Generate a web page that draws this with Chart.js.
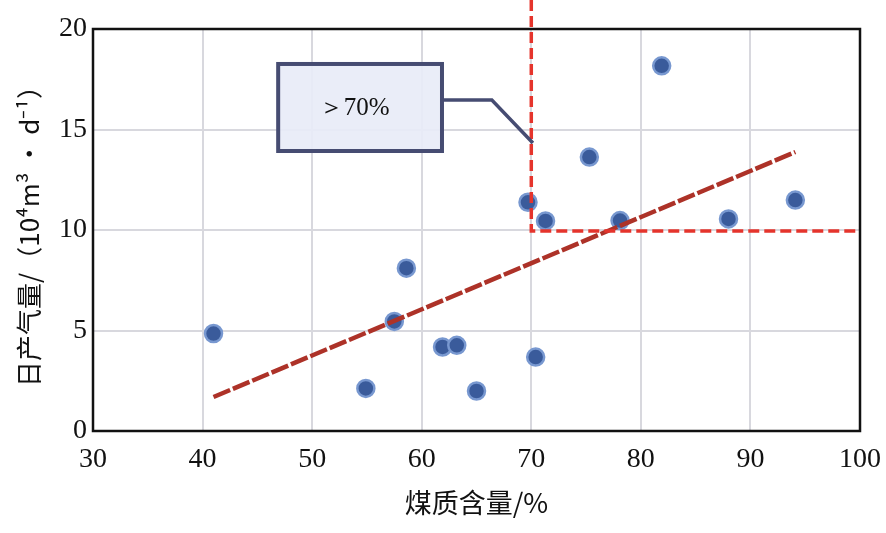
<!DOCTYPE html>
<html>
<head>
<meta charset="utf-8">
<script src="https://cdn.jsdelivr.net/npm/chart.js@4.4.0/dist/chart.umd.min.js"></script>
<style>
  html, body { margin: 0; padding: 0; background: #fff; }
  #wrap { width: 886px; height: 533px; }
</style>
</head>
<body>
<div id="wrap"><canvas id="gasChart" width="886" height="533"></canvas></div>
<script>
// coal quality content (%) vs daily gas production (10^4 m3/d)
const coalContent = [41.0, 54.9, 57.5, 58.6, 61.9, 63.2, 65.0, 69.7, 70.4, 71.3, 75.3, 78.1, 81.9, 88.0, 94.1];
const dailyGas = [4.85, 2.12, 5.45, 8.1, 4.18, 4.26, 1.99, 11.38, 3.68, 10.45, 13.63, 10.47, 18.17, 10.55, 11.49];

// fitted trend line end points
const trendX = [41.0, 94.1];
const trendY = [1.69, 13.88];

// threshold lines
const thresholdX = 70;
const thresholdY = 9.95;
const calloutText = '＞70%';

const xTicks = [30, 40, 50, 60, 70, 80, 90, 100];
const yTicks = [0, 5, 10, 15, 20];

const serif = '"Liberation Serif", "DejaVu Serif", serif';
const cjk = '"Noto Sans CJK SC", sans-serif';

const overlay = {
  id: 'overlay',
  afterDatasetsDraw(chart) {
    const { ctx, chartArea: a, scales: { x, y } } = chart;
    ctx.save();

    // red threshold lines
    ctx.strokeStyle = '#e5342c';
    ctx.lineWidth = 3.5;
    ctx.setLineDash([11, 5]);
    ctx.beginPath();
    ctx.moveTo(x.getPixelForValue(thresholdX), 0);
    ctx.lineTo(x.getPixelForValue(thresholdX), y.getPixelForValue(thresholdY));
    ctx.lineTo(x.getPixelForValue(100), y.getPixelForValue(thresholdY));
    ctx.stroke();
    ctx.setLineDash([]);

    // callout box and leader
    const bx0 = x.getPixelForValue(46.9), bx1 = x.getPixelForValue(61.85);
    const by0 = y.getPixelForValue(18.26), by1 = y.getPixelForValue(13.93);
    ctx.strokeStyle = '#464c72';
    ctx.lineWidth = 3.5;
    ctx.beginPath();
    ctx.moveTo(bx1, y.getPixelForValue(16.47));
    ctx.lineTo(x.getPixelForValue(66.4), y.getPixelForValue(16.47));
    ctx.lineTo(x.getPixelForValue(70.15), y.getPixelForValue(14.33));
    ctx.stroke();
    ctx.fillStyle = 'rgba(232, 236, 247, 0.92)';
    ctx.fillRect(bx0, by0, bx1 - bx0, by1 - by0);
    ctx.lineWidth = 4;
    ctx.strokeRect(bx0, by0, bx1 - bx0, by1 - by0);
    ctx.fillStyle = '#111';
    ctx.font = '25px ' + serif;
    ctx.textAlign = 'center';
    ctx.textBaseline = 'middle';
    ctx.fillText(calloutText, (bx0 + bx1) / 2 - 6, (by0 + by1) / 2 + 1);

    // frame
    ctx.strokeStyle = '#111';
    ctx.lineWidth = 2.5;
    ctx.strokeRect(a.left, a.top, a.right - a.left, a.bottom - a.top);
    ctx.restore();
  }
};

new Chart(document.getElementById('gasChart'), {
  type: 'scatter',
  data: {
    datasets: [
      {
        type: 'line',
        data: trendX.map((v, i) => ({ x: v, y: trendY[i] })),
        borderColor: '#ad3228',
        borderWidth: 4.5,
        borderDash: [18, 3],
        pointRadius: 0,
        fill: false,
        order: 0
      },
      {
        data: coalContent.map((v, i) => ({ x: v, y: dailyGas[i] })),
        backgroundColor: '#3a5b9b',
        borderColor: '#7898d0',
        borderWidth: 2.5,
        pointRadius: 8.5,
        order: 1
      }
    ]
  },
  options: {
    responsive: false,
    animation: false,
    layout: { padding: { top: 29, right: 26, left: 0, bottom: 0 } },
    plugins: { legend: { display: false }, tooltip: { enabled: false } },
    scales: {
      x: {
        type: 'linear',
        min: 30, max: 100,
        afterBuildTicks: s => { s.ticks = xTicks.map(v => ({ value: v })); },
        afterFit: s => { s.height = 102; s.paddingLeft = 0; s.paddingRight = 0; },
        grid: { color: '#d8d8de', lineWidth: 2, drawTicks: false },
        border: { display: false },
        ticks: { color: '#111', font: { family: serif, size: 28 }, padding: 12 },
        title: { display: true, text: '煤质含量/%', color: '#111', font: { family: cjk, size: 27 }, padding: { top: 0, bottom: 14 } }
      },
      y: {
        min: 0, max: 20,
        afterBuildTicks: s => { s.ticks = yTicks.map(v => ({ value: v })); },
        afterFit: s => { s.width = 93; s.paddingTop = 0; s.paddingBottom = 0; },
        grid: { color: '#d8d8de', lineWidth: 2, drawTicks: false },
        border: { display: false },
        ticks: { color: '#111', font: { family: serif, size: 28 }, padding: 6 },
        title: { display: true, text: '日产气量/（10⁴m³ • d⁻¹）', color: '#111', font: { family: cjk, size: 26 }, padding: { top: 14, bottom: 0 } }
      }
    }
  },
  plugins: [overlay]
});
</script>
</body>
</html>
